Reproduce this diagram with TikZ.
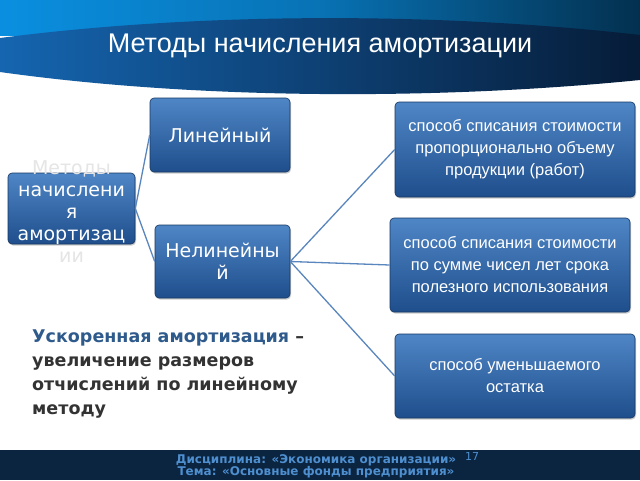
\documentclass[tikz,border=0pt]{standalone}
\usepackage{fontspec}
\setmainfont{Liberation Sans}
\newfontfamily\dv{DejaVu Sans}
\usetikzlibrary{shadows}
\definecolor{boxtop}{HTML}{4F86C6}
\definecolor{boxbot}{HTML}{1F4E8C}
\definecolor{navy}{HTML}{0B2440}
\definecolor{accent}{HTML}{2E5A8C}
\definecolor{sky}{HTML}{0A8FE0}
\definecolor{hdark}{HTML}{03304F}
\definecolor{band1}{HTML}{1565B0}
\definecolor{band2}{HTML}{061C38}
\definecolor{lnc}{HTML}{5A86BE}
\definecolor{foot}{HTML}{4E8FD0}
\tikzset{
  bx/.style={draw=boxbot!70!black, line width=0.6pt, rounded corners=4pt, top color=boxtop, bottom color=boxbot, text=white, align=center, inner sep=2pt, drop shadow={opacity=0.4, shadow xshift=1pt, shadow yshift=-1.5pt}},
  ln/.style={draw=lnc, line width=1.3pt},
}
\begin{document}
\begin{tikzpicture}[x=1pt,y=-1pt]
\useasboundingbox (0,0) rectangle (640,480);
\fill[white] (0,0) rectangle (640,480);
% header
\shade[left color=sky, right color=hdark, middle color=sky!70!hdark] (0,0) rectangle (640,35);
\shade[left color=band1, right color=band2] (0,38) .. controls (200,12) and (440,12) .. (640,35) -- (640,80) .. controls (440,100) and (200,100) .. (0,72) -- cycle;
\node[text=white, font=\fontsize{27}{30}\selectfont] (title) at (320,46) {Методы начисления амортизации};
% boxes
\node[bx, minimum width=127, minimum height=71] (m) at (71.5,208.5) {};
\node[text=gray!20, font=\dv\fontsize{19}{22}\selectfont, align=center] (mt) at (71.5,212)
 {Методы\\\textcolor{white}{начислени}\\\textcolor{white}{я}\\\textcolor{white}{амортизац}\\ии};
\node[bx, minimum width=140, minimum height=74, font=\dv\fontsize{19}{22}\selectfont] (lin) at (220,135) {Линейный};
\node[bx, minimum width=135, minimum height=73, font=\dv\fontsize{19}{22}\selectfont] (nl) at (222.5,261.5) {Нелинейны\\й};
\node[bx, minimum width=240, minimum height=95, font=\fontsize{16.5}{22}\selectfont] (r1) at (515,149.5) {способ списания стоимости\\пропорционально объему\\продукции (работ)};
\node[bx, minimum width=240, minimum height=94, font=\fontsize{16.5}{22}\selectfont] (r2) at (510,265) {способ списания стоимости\\по сумме чисел лет срока\\полезного использования};
\node[bx, minimum width=240, minimum height=84, font=\fontsize{16.5}{22}\selectfont] (r3) at (515,376) {способ уменьшаемого\\остатка};
% connectors
\draw[ln] (m.east) -- (lin.west);
\draw[ln] (m.east) -- (nl.west);
\draw[ln] (nl.east) -- (r1.west);
\draw[ln] (nl.east) -- (r2.west);
\draw[ln] (nl.east) -- (r3.west);
% text
\node[anchor=north west, align=left, font=\dv\bfseries\fontsize{17.5}{24}\selectfont, text=black!80, inner sep=0pt] (acc) at (32,330)
 {\textcolor{accent}{Ускоренная амортизация} –\\увеличение размеров\\отчислений по линейному\\методу};
% footer
\fill[navy] (0,450) rectangle (640,480);
\node[text=foot, font=\dv\bfseries\fontsize{12}{12}\selectfont, align=center] (f) at (316,466) {Дисциплина: «Экономика организации»\\Тема: «Основные фонды предприятия»};
\node[text=foot, font=\dv\fontsize{11}{11}\selectfont] (pg) at (472,456) {17};
\end{tikzpicture}
\end{document}
